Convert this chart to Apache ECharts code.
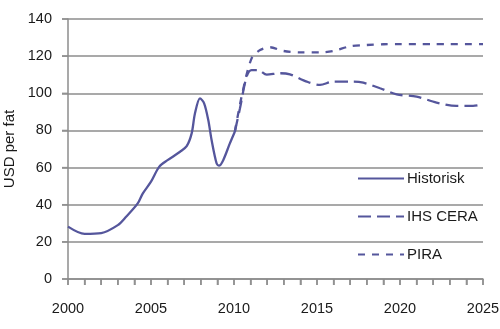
<!DOCTYPE html>
<html><head><meta charset="utf-8">
<script src="https://cdn.jsdelivr.net/npm/echarts@6/dist/echarts.min.js"></script>
<style>html,body{margin:0;padding:0;background:#fff}#c{width:500px;height:329px}</style>
</head><body><div id="c"></div>
<script>
const histYears = [2000, 2001, 2002, 2003, 2003.5, 2004.2, 2004.5, 2005, 2005.5, 2006, 2006.75, 2007.15, 2007.45, 2007.65, 2007.95, 2008.2, 2008.45, 2008.65, 2008.95, 2009.1, 2009.35, 2009.75, 2010.05];
const histValues = [28.2, 24.3, 24.7, 29, 33.5, 40.7, 46, 52.4, 60.5, 64, 68.5, 71.5, 78.4, 89.2, 97.3, 94.6, 85.6, 74.8, 62.3, 61, 64, 73, 79.3];
const ceraYears = [2010.05, 2010.36, 2010.76, 2011.06, 2011.46, 2011.97, 2012.77, 2013.37, 2014.38, 2015.18, 2015.98, 2017.19, 2017.79, 2018.8, 2019.8, 2021, 2022.2, 2023.4, 2024.4, 2025];
const ceraValues = [79.3, 91.9, 109, 112.5, 112.5, 110, 110.8, 110.2, 106.3, 104.5, 106.3, 106.3, 105.7, 102.7, 99.4, 98.2, 95, 93.2, 93.2, 94];
const piraYears = [2010.05, 2010.5, 2011.06, 2011.57, 2012.17, 2012.97, 2014, 2015.2, 2016, 2017, 2018, 2019, 2020, 2021, 2022, 2023, 2024, 2025];
const piraValues = [79.3, 100, 118.8, 123.3, 124.8, 122.8, 122, 122, 122.8, 125.3, 126, 126.4, 126.5, 126.5, 126.5, 126.5, 126.5, 126.5];
const yTicks = [0, 20, 40, 60, 80, 100, 120, 140];
const tickYears = [2000, 2001, 2002, 2003, 2004, 2005, 2006, 2007, 2008, 2009, 2010, 2011, 2012, 2013, 2014, 2015, 2016, 2017, 2018, 2019, 2020, 2021, 2022, 2023, 2024, 2025];
const xLabelYears = [2000, 2005, 2010, 2015, 2020, 2025];
const seriesNames = ['Historisk', 'IHS CERA', 'PIRA'];
const yAxisTitle = 'USD per fat';

const pair = (xs, ys) => xs.map((x, i) => [x, ys[i]]);
const col = '#55569c';
const gray = '#8c8c8c';
const chart = echarts.init(document.getElementById('c'));
chart.setOption({
  animation: false,
  textStyle: { fontFamily: 'Liberation Sans, Arial, sans-serif' },
  grid: { left: 68, right: 17, top: 19, bottom: 50, containLabel: false, outerBoundsMode: 'none' },
  legend: {
    orient: 'vertical', left: 357, top: 171, padding: 0, itemWidth: 46, itemHeight: 14, itemGap: 23,
    itemStyle: { opacity: 0 },
    textStyle: { fontSize: 15, color: '#1a1a1a', padding: [0, 0, 0, -2] },
    data: seriesNames
  },
  xAxis: {
    type: 'value', min: 2000, max: 2025, interval: 1,
    axisLine: { show: true, onZero: false, lineStyle: { color: gray, width: 1.5 } },
    axisTick: { show: true, length: 6, lineStyle: { color: gray, width: 1.5 } },
    splitLine: { show: false },
    axisLabel: { show: true, fontSize: 14.5, color: '#1a1a1a', margin: 22,
      formatter: v => xLabelYears.includes(Math.round(v)) && Math.abs(v - Math.round(v)) < 1e-6 ? String(Math.round(v)) : '' }
  },
  yAxis: {
    type: 'value', min: yTicks[0], max: yTicks[yTicks.length - 1], interval: 20,
    name: yAxisTitle, nameLocation: 'middle', nameGap: 51, nameRotate: 90,
    nameTextStyle: { fontSize: 15, color: '#1a1a1a' },
    axisLine: { show: true, lineStyle: { color: gray, width: 1.5 } },
    axisTick: { show: true, length: 6, lineStyle: { color: gray, width: 1.5 } },
    splitLine: { show: true, lineStyle: { color: gray, width: 1.5 } },
    axisLabel: { fontSize: 14.5, color: '#1a1a1a', margin: 16 }
  },
  series: [
    { name: seriesNames[0], type: 'line', data: pair(histYears, histValues), smooth: 0.3, symbol: 'none',
      lineStyle: { color: col, width: 2.3 }, itemStyle: { color: col }, z: 3 },
    { name: seriesNames[1], type: 'line', data: pair(ceraYears, ceraValues), smooth: 0.3, symbol: 'none',
      lineStyle: { color: col, width: 2.3, type: [13, 6] }, itemStyle: { color: col } },
    { name: seriesNames[2], type: 'line', data: pair(piraYears, piraValues), smooth: 0.3, symbol: 'none',
      lineStyle: { color: col, width: 2.3, type: [7, 7] }, itemStyle: { color: col } },
    { name: 'xticks', type: 'scatter', clip: false, silent: true, z: 1,
      data: tickYears.map(y => [y, yTicks[0]]), symbol: 'rect', symbolSize: [1.5, 6], symbolOffset: [0, 3],
      itemStyle: { color: gray } },
    { name: 'yticks', type: 'scatter', clip: false, silent: true, z: 1,
      data: yTicks.map(v => [tickYears[0], v]), symbol: 'rect', symbolSize: [6, 1.5], symbolOffset: [-3, 0],
      itemStyle: { color: gray } }
  ]
});
</script>
</body></html>
